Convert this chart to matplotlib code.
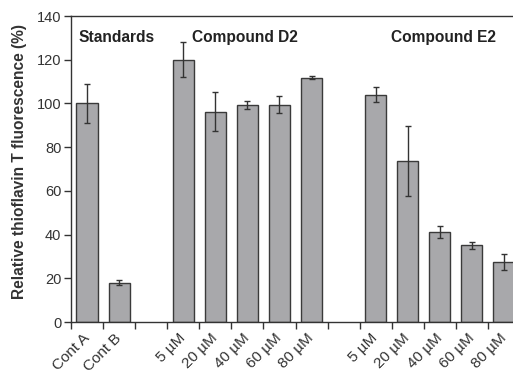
import numpy as np
import matplotlib.pyplot as plt
from matplotlib.transforms import ScaledTranslation

plt.rcParams['font.family'] = ['Liberation Sans', 'DejaVu Sans']

labels = ['Cont A', 'Cont B', '', '5 µM', '20 µM', '40 µM', '60 µM', '80 µM',
          '', '5 µM', '20 µM', '40 µM', '60 µM', '80 µM']
values = [100, 18, np.nan, 120, 96.2, 99.2, 99.5, 111.8,
          np.nan, 104, 73.5, 41.3, 35.1, 27.4]
errors = [9, 1, 0, 8, 9, 1.7, 3.7, 0.7,
          0, 3.4, 16, 2.7, 1.5, 3.7]
groups = ['Standards', 'Compound D2', 'Compound E2']

fig = plt.figure(figsize=(5.13, 3.70), dpi=100)
ax = fig.add_axes([71/513, 48/370, 449/513, 306/370])

x = np.arange(len(labels))
ax.bar(x, values, width=0.66, color='#a8a8ab', edgecolor='#3a3a3a', linewidth=1.0,
       yerr=errors, capsize=2.5, error_kw=dict(ecolor='#333333', elinewidth=1.0, capthick=1.0),
       zorder=2)

ax.set_xlim(-0.5, len(labels) - 0.5)
ax.set_ylim(0, 140)
ax.set_yticks(np.arange(0, 141, 20))

ax.set_xticks(x)
ax.set_xticklabels(labels, rotation=45, ha='right', va='center', rotation_mode='anchor',
                   fontsize=11, color='#333333')
shift = ScaledTranslation(-3/100, 0, fig.dpi_scale_trans)
for lab in ax.get_xticklabels():
    lab.set_transform(lab.get_transform() + shift)
ax.set_xticks(np.arange(-0.5, len(labels), 1), minor=True)
ax.tick_params(axis='x', which='major', length=0, pad=10)
ax.tick_params(axis='x', which='minor', length=5, width=1.0, direction='out', color='#333333')
ax.tick_params(axis='y', length=5, width=1.0, direction='out', labelsize=10.5, colors='#333333', pad=2)

for s in ['left', 'bottom', 'top']:
    ax.spines[s].set_color('#333333')
    ax.spines[s].set_linewidth(1.0)
ax.spines['right'].set_visible(False)

ax.set_ylabel('Relative thioflavin T fluorescence (%)', fontsize=11.2, fontweight='bold', color='#333333')
ax.yaxis.set_label_coords(-0.098, 0.5245)

ax.text(-0.28, 130, groups[0], fontsize=11.2, fontweight='bold', va='center', color='#222222')
ax.text(3.28, 130, groups[1], fontsize=11.2, fontweight='bold', va='center', color='#222222')
ax.text(9.47, 130, groups[2], fontsize=11.2, fontweight='bold', va='center', color='#222222')

fig.savefig('out.png', dpi=100)
